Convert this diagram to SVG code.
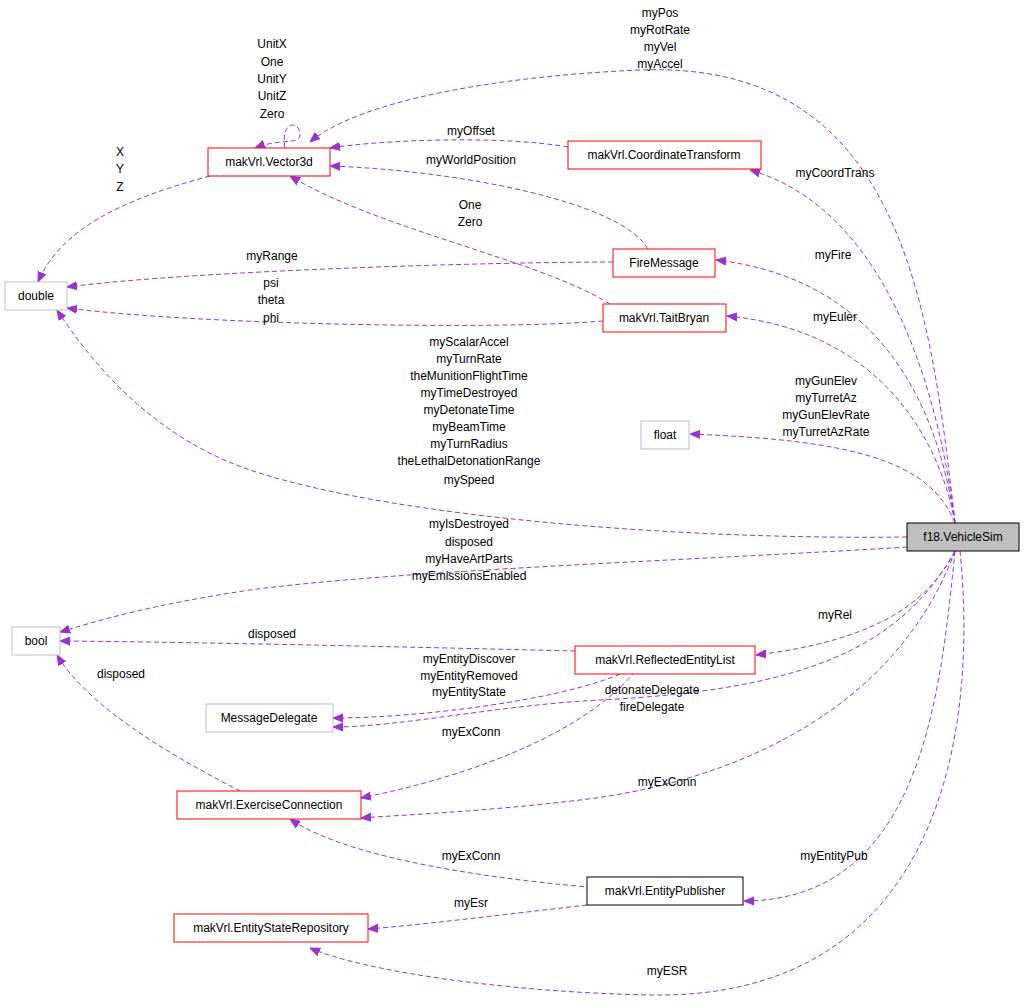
<svg xmlns="http://www.w3.org/2000/svg" width="1024" height="1007" viewBox="0 0 1024 1007">
<style>
text{font-family:"Liberation Sans",Arial,sans-serif;font-size:12px;text-anchor:middle;fill:#000}
.n rect{fill:#fff;stroke:#ff0000;stroke-width:1}
.g rect{fill:#fff;stroke:#bfbfbf}
.b rect{fill:#fff;stroke:#000}
#edges path{fill:none;stroke:#9a32cd;stroke-dasharray:5,3;marker-end:url(#ah)}
</style>
<defs><marker id="ah" viewBox="0 0 10 10" refX="10" refY="5" markerWidth="10" markerHeight="10" markerUnits="userSpaceOnUse" orient="auto"><path d="M0,1 L10,5 L0,9z" fill="#9a32cd" stroke="#9a32cd"/></marker></defs>
<rect width="1024" height="1007" fill="#fff"/>
<g id="edges">
<path d="M955,523 C930,300 900,60 640,70 C500,76 360,100 310,142"/>
<path d="M955,523 C940,400 890,210 750,170"/>
<path d="M955,523 C940,420 890,280 716,260"/>
<path d="M955,523 C940,440 880,330 727,316"/>
<path d="M955,523 C930,460 850,440 690,434"/>
<path d="M907,537 C700,540 400,520 250,470 C150,436 90,360 57,310"/>
<path d="M907,547 C700,560 400,570 250,590 C150,605 100,620 60,632"/>
<path d="M955,551 C930,600 880,640 756,655"/>
<path d="M955,551 C900,650 800,690 600,700 C500,705 400,727 333,727"/>
<path d="M955,551 C900,700 750,780 580,800 C480,812 400,815 361,818"/>
<path d="M955,551 C940,700 920,900 744,901"/>
<path d="M960,551 C980,750 930,1000 650,995 C500,992 360,970 310,948"/>
<path d="M568,147 C500,135 380,140 330,148"/>
<path d="M648,249 C620,200 450,170 330,166"/>
<path d="M613,262 C500,262 200,270 67,287"/>
<path d="M610,304 C540,260 380,230 290,176"/>
<path d="M603,321 C500,330 200,325 67,308"/>
<path d="M210,176 C120,200 60,230 38,282"/>
<path d="M285,148 C280,120 300,120 300,135 C300,145 280,138 255,148"/>
<path d="M575,651 C450,648 200,642 60,641"/>
<path d="M240,791 C180,760 90,710 57,655"/>
<path d="M620,674 C560,700 420,718 333,718"/>
<path d="M640,665 C600,720 500,770 361,798"/>
<path d="M600,888 C500,880 350,860 290,819"/>
<path d="M587,905 C500,915 420,925 368,929"/>
</g>
<g id="labels">
<text x="660" y="17">myPos</text><text x="660" y="34">myRotRate</text><text x="660" y="51">myVel</text><text x="660" y="68">myAccel</text>
<text x="835" y="177">myCoordTrans</text>
<text x="833" y="259">myFire</text>
<text x="835" y="321">myEuler</text>
<text x="826" y="385">myGunElev</text><text x="826" y="402">myTurretAz</text><text x="826" y="419">myGunElevRate</text><text x="826" y="436">myTurretAzRate</text>
<text x="469" y="346">myScalarAccel</text><text x="469" y="363">myTurnRate</text><text x="469" y="380">theMunitionFlightTime</text><text x="469" y="397">myTimeDestroyed</text><text x="469" y="414">myDetonateTime</text><text x="469" y="431">myBeamTime</text><text x="469" y="448">myTurnRadius</text><text x="469" y="465">theLethalDetonationRange</text><text x="469" y="484">mySpeed</text>
<text x="469" y="528">myIsDestroyed</text><text x="469" y="546">disposed</text><text x="469" y="563">myHaveArtParts</text><text x="469" y="580">myEmissionsEnabled</text>
<text x="835" y="619">myRel</text>
<text x="652" y="694">detonateDelegate</text><text x="652" y="711">fireDelegate</text>
<text x="667" y="786">myExConn</text>
<text x="834" y="860">myEntityPub</text>
<text x="667" y="975">myESR</text>
<text x="471" y="135">myOffset</text>
<text x="471" y="164">myWorldPosition</text>
<text x="470" y="209">One</text><text x="470" y="226">Zero</text>
<text x="272" y="260">myRange</text>
<text x="271" y="287">psi</text><text x="271" y="304">theta</text><text x="271" y="322">phi</text>
<text x="120" y="156">X</text><text x="120" y="173">Y</text><text x="120" y="191">Z</text>
<text x="272" y="48">UnitX</text><text x="272" y="66">One</text><text x="272" y="83">UnitY</text><text x="272" y="100">UnitZ</text><text x="272" y="118">Zero</text>
<text x="272" y="638">disposed</text>
<text x="121" y="678">disposed</text>
<text x="469" y="663">myEntityDiscover</text><text x="469" y="680">myEntityRemoved</text><text x="469" y="696">myEntityState</text>
<text x="471" y="736">myExConn</text>
<text x="471" y="860">myExConn</text>
<text x="471" y="907">myEsr</text>
</g>
<g id="vector3d" class="n"><rect x="208" y="148" width="122" height="28"/><text x="269" y="166">makVrl.Vector3d</text></g>
<g id="coordtrans" class="n"><rect x="568" y="141" width="193" height="28"/><text x="664" y="159">makVrl.CoordinateTransform</text></g>
<g id="double" class="g"><rect x="5" y="282" width="62" height="28"/><text x="36" y="300">double</text></g>
<g id="firemessage" class="n"><rect x="613" y="249" width="102" height="28"/><text x="664" y="267">FireMessage</text></g>
<g id="taitbryan" class="n"><rect x="603" y="304" width="123" height="28"/><text x="664" y="322">makVrl.TaitBryan</text></g>
<g id="float" class="g"><rect x="641" y="421" width="48" height="28"/><text x="665" y="439">float</text></g>
<g id="vehiclesim"><rect x="907" y="523" width="112" height="28" fill="#bfbfbf" stroke="#000"/><text x="963" y="541">f18.VehicleSim</text></g>
<g id="bool" class="g"><rect x="12" y="627" width="48" height="28"/><text x="36" y="645">bool</text></g>
<g id="reflected" class="n"><rect x="575" y="646" width="180" height="28"/><text x="665" y="664">makVrl.ReflectedEntityList</text></g>
<g id="msgdelegate" class="g"><rect x="206" y="704" width="127" height="28"/><text x="269" y="722">MessageDelegate</text></g>
<g id="exconn" class="n"><rect x="177" y="791" width="184" height="28"/><text x="269" y="809">makVrl.ExerciseConnection</text></g>
<g id="entitypub" class="b"><rect x="587" y="877" width="156" height="28"/><text x="665" y="895">makVrl.EntityPublisher</text></g>
<g id="esr" class="n"><rect x="174" y="914" width="194" height="28"/><text x="271" y="932">makVrl.EntityStateRepository</text></g>
</svg>
